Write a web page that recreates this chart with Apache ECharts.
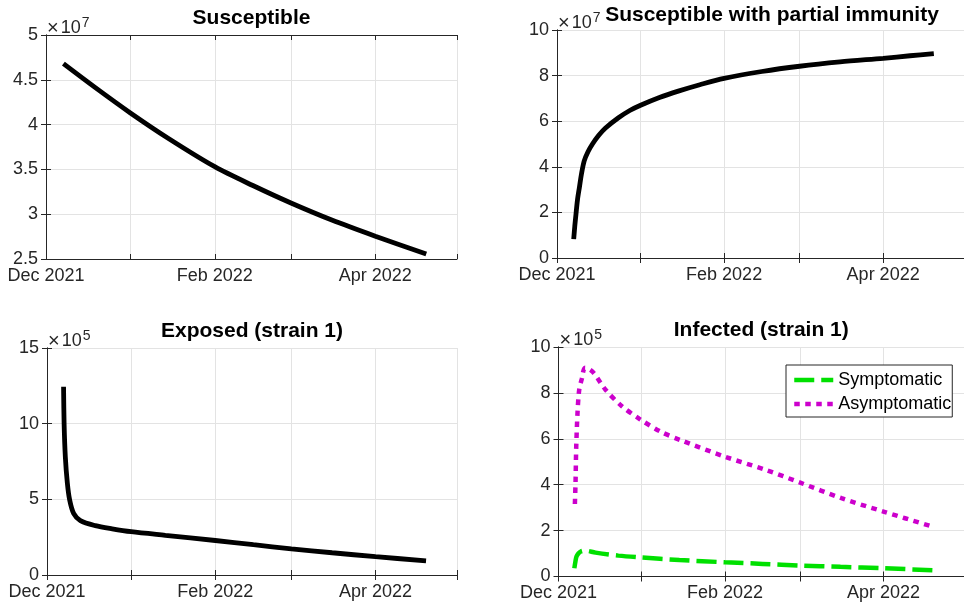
<!DOCTYPE html>
<html><head><meta charset="utf-8">
<script src="https://cdn.jsdelivr.net/npm/echarts@6/dist/echarts.min.js"></script>
<style>html,body{margin:0;padding:0;background:#fff}#c{width:964px;height:612px}</style>
</head><body><div id="c"></div>
<script>
// ---- time axis ----
const startDate = '2021-12-01';
const endDate = '2022-05-01';
const monthTicks = ['2021-12-01','2022-01-01','2022-02-01','2022-03-01','2022-04-01','2022-05-01'];
const labelDates = ['2021-12-01','2022-02-01','2022-04-01'];
const tickLabels = ['Dec 2021','Feb 2022','Apr 2022'];

// ---- data: x = days since 1 Dec 2021 ----
// Susceptible (x10^7)
const susDays = [6.4, 18, 31, 45, 62, 76, 90, 105, 121, 139.7];
const susVals = [4.68, 4.415, 4.13, 3.845, 3.53, 3.32, 3.125, 2.935, 2.755, 2.556];
// Susceptible with partial immunity (x10^7)
const partDays = [6.2, 6.6, 7.05, 7.6, 8.3, 9.1, 10.1, 11.5, 13.1, 15.5, 18, 22.8, 27, 31, 38, 45, 53, 62, 76, 90, 105, 121, 131, 139.8];
const partVals = [0.83, 1.4, 1.93, 2.55, 3.09, 3.7, 4.26, 4.66, 4.99, 5.38, 5.70, 6.15, 6.47, 6.70, 7.04, 7.32, 7.60, 7.88, 8.18, 8.41, 8.60, 8.76, 8.87, 8.96];
// Exposed strain 1 (x10^5)
const expDays = [6.1, 6.3, 6.75, 7.5, 8.35, 9.8, 12.3, 17.8, 24, 31, 43.6, 62, 76, 90, 105, 121, 139.6];
const expVals = [12.44, 10.0, 7.81, 6.06, 4.95, 4.07, 3.59, 3.26, 3.05, 2.86, 2.62, 2.28, 2.0, 1.73, 1.47, 1.21, 0.94];
// Infected strain 1 (x10^5)
const symDays = [5.9, 6.3, 6.7, 7.4, 8.3, 9.9, 13.8, 22.3, 30.5, 45, 62, 76, 90, 105, 121, 139.6];
const symVals = [0.36, 0.65, 0.87, 1.0, 1.09, 1.13, 1.04, 0.91, 0.83, 0.72, 0.62, 0.55, 0.48, 0.42, 0.36, 0.27];
const asymDays = [6.1, 6.35, 6.6, 7.1, 7.7, 8.7, 9.9, 12.8, 17.5, 23.6, 30.5, 38.2, 45.5, 62, 77.3, 90, 105.4, 121, 139.6];
const asymVals = [3.16, 4.13, 5.65, 7.17, 8.12, 8.62, 9.10, 8.91, 8.14, 7.42, 6.84, 6.30, 5.94, 5.22, 4.64, 4.09, 3.41, 2.83, 2.16];

const titles = ['Susceptible', 'Susceptible with partial immunity', 'Exposed (strain 1)', 'Infected (strain 1)'];
const exponents = ['7', '7', '5', '5'];
const yMin = [2.5, 0, 0, 0];
const yMax = [5, 10, 15, 10];
const yStep = [0.5, 2, 5, 2];
const legendNames = ['Symptomatic', 'Asymptomatic'];

// ---- helpers ----
const DAY = 864e5;
function toTime(s) { const p = s.split('-').map(Number); return Date.UTC(p[0], p[1] - 1, p[2]); }
const T0 = toTime(startDate);
function toDay(s) { return Math.round((toTime(s) - T0) / DAY); }
const monthDays = monthTicks.map(toDay);
const labelDays = labelDates.map(toDay);
const labelMap = {};
labelDays.forEach((t, i) => { labelMap[t] = tickLabels[i]; });
function pts(days, vals) { return days.map((d, i) => [d, vals[i]]); }

const FONT = '"Liberation Sans", Arial, Helvetica, sans-serif';
const AXC = '#262626';
const GRIDC = '#e3e3e3';
const GREEN = '#00e000';
const MAGENTA = '#cc00cc';
const symDash = [20, 7];
const asymDash = [5.5, 5.5];

const grids = [
  { left: 46, top: 35, width: 411, height: 224 },
  { left: 557, top: 30, width: 414, height: 228 },
  { left: 47, top: 348, width: 410, height: 227 },
  { left: 558.5, top: 347, width: 414, height: 229.5 }
];
const titlePad = [[0,0,0,0],[0,0,0,23],[0,0,0,0],[0,0,0,0]];
const titleGap = [6, 4, 6, 6];

const xAxis = [], yAxis = [];
grids.forEach((g, i) => {
  const base = {
    type: 'value', gridIndex: i, min: 0, max: toDay(endDate),
    axisLine: { show: true, lineStyle: { color: AXC, width: 1 } },
    axisTick: { show: true, inside: true, length: 5, customValues: monthDays, lineStyle: { color: AXC } }
  };
  xAxis.push(Object.assign({}, base, {
    position: 'bottom',
    axisLabel: { show: true, customValues: labelDays, formatter: v => labelMap[Math.round(v)] || '',
      color: AXC, fontSize: 18, fontFamily: FONT, margin: 8 },
    splitLine: { show: true, lineStyle: { color: GRIDC, width: 1 } }
  }));
  xAxis.push(Object.assign({}, base, {
    position: 'top',
    axisLabel: { show: false },
    splitLine: { show: false },
    name: titles[i], nameLocation: 'middle', nameGap: titleGap[i],
    nameTextStyle: { fontSize: 21, fontWeight: 'bold', color: '#000', fontFamily: FONT, padding: titlePad[i] }
  }));
  const ybase = {
    type: 'value', gridIndex: i, min: yMin[i], max: yMax[i], interval: yStep[i],
    axisLine: { show: true, lineStyle: { color: AXC, width: 1 } },
    axisTick: { show: true, inside: true, length: 5, lineStyle: { color: AXC } }
  };
  yAxis.push(Object.assign({}, ybase, {
    position: 'left',
    axisLabel: { color: AXC, fontSize: 18, fontFamily: FONT, margin: 8 },
    splitLine: { show: true, lineStyle: { color: GRIDC, width: 1 } },
    name: '{x|×}{n|10}{e|' + exponents[i] + '}', nameLocation: 'end', nameGap: -2,
    nameTextStyle: {
      align: 'left', verticalAlign: 'bottom', padding: [0, 0, 0, 1],
      rich: {
        x: { fontSize: 20, color: AXC, fontFamily: FONT, lineHeight: 18, padding: [0, 2, 0, 0] },
        n: { fontSize: 18, color: AXC, fontFamily: FONT, lineHeight: 18 },
        e: { fontSize: 14, color: AXC, fontFamily: FONT, lineHeight: 14, padding: [0, 0, 9, 1] }
      }
    }
  }));
  yAxis.push(Object.assign({}, ybase, {
    position: 'right', axisLabel: { show: false }, splitLine: { show: false }
  }));
});

function lineSeries(name, gi, data, color, width, dash) {
  return {
    name: name, type: 'line', xAxisIndex: gi * 2, yAxisIndex: gi * 2,
    data: data, symbol: 'none', showSymbol: false, smooth: 0.3,
    lineStyle: { color: color, width: width, type: dash || 'solid', cap: 'butt' },
    itemStyle: { color: color }, z: 5
  };
}

const option = {
  animation: false, backgroundColor: '#fff',
  textStyle: { fontFamily: FONT },
  grid: grids.map(g => Object.assign({ containLabel: false }, g)),
  xAxis: xAxis, yAxis: yAxis,
  legend: {
    data: [
      { name: legendNames[0], lineStyle: { color: GREEN, width: 4.5, type: symDash, cap: 'butt' }, itemStyle: { opacity: 0 } },
      { name: legendNames[1], lineStyle: { color: MAGENTA, width: 4.5, type: asymDash, cap: 'butt' }, itemStyle: { opacity: 0 } }
    ],
    orient: 'vertical', left: 786, top: 365,
    backgroundColor: '#fff', borderColor: AXC, borderWidth: 1, borderRadius: 0,
    padding: [6, 1, 4, 6], itemGap: 6, itemWidth: 39, itemHeight: 18,
    itemStyle: { opacity: 0 },
    textStyle: { fontSize: 18, color: '#000', fontFamily: FONT }
  },
  series: [
    lineSeries('Susceptible', 0, pts(susDays, susVals), '#000', 4.8),
    lineSeries('Partial', 1, pts(partDays, partVals), '#000', 4.8),
    lineSeries('Exposed', 2, pts(expDays, expVals), '#000', 4.8),
    lineSeries(legendNames[0], 3, pts(symDays, symVals), GREEN, 4.5, symDash),
    lineSeries(legendNames[1], 3, pts(asymDays, asymVals), MAGENTA, 4.5, asymDash)
  ]
};
const chart = echarts.init(document.getElementById('c'), null, { renderer: 'canvas' });
chart.setOption(option);
</script></body></html>
